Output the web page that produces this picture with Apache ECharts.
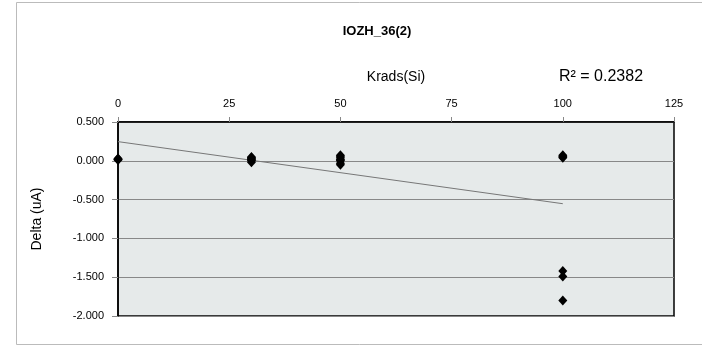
<!DOCTYPE html>
<html>
<head>
<meta charset="utf-8">
<script src="https://cdn.jsdelivr.net/npm/echarts@6/dist/echarts.min.js"></script>
<style>html,body{margin:0;padding:0;background:#fff}#c{width:702px;height:347px}</style>
</head>
<body>
<div id="c"></div>
<script>
// Measurements: Krads(Si) dose and Delta (uA)
const dose0 = [0.02, 0.02, 0.03, 0.01, 0.02];
const dose30 = [-0.02, 0.0, 0.01, 0.03, 0.04, 0.05, 0.02];
const dose50 = [-0.05, -0.03, 0.0, 0.02, 0.04, 0.06, 0.07, 0.01];
const dose100 = [0.04, 0.05, 0.06, 0.07, -1.42, -1.49, -1.80];
const doses = [0, 30, 50, 100];
const trendX = [0, 100];
const trendY = [0.247, -0.553];
const xTicks = [0, 25, 50, 75, 100, 125];
const yTicks = [-2, -1.5, -1, -0.5, 0, 0.5];

const groups = [dose0, dose30, dose50, dose100];
const points = [];
groups.forEach((g, i) => g.forEach(v => points.push([doses[i], v])));
const trend = trendX.map((x, i) => [x, trendY[i]]);

const font = 'Liberation Sans, Arial, sans-serif';
const chart = echarts.init(document.getElementById('c'), null, {renderer: 'canvas'});
chart.setOption({
  animation: false,
  backgroundColor: '#fff',
  title: {
    text: 'IOZH_36(2)', left: 372, top: 20, textAlign: 'center',
    textStyle: {fontFamily: font, fontSize: 13, fontWeight: 'bold', color: '#000'}
  },
  graphic: [
    {type: 'rect', shape: {x: 16.5, y: 2.5, width: 700, height: 342}, style: {fill: null, stroke: '#bbb', lineWidth: 1}, z: -1},
    {type: 'text', left: 559, top: 69, style: {text: 'R² = 0.2382', font: '16px ' + font, fill: '#000'}}
  ],
  grid: {
    left: 118, top: 122, right: 28, bottom: 31,
    show: true, backgroundColor: '#E6EAEA', borderColor: '#000', borderWidth: 1.5
  },
  xAxis: {
    type: 'value', position: 'top', min: xTicks[0], max: xTicks[xTicks.length - 1], interval: 25,
    name: 'Krads(Si)', nameLocation: 'middle', nameGap: 38,
    nameTextStyle: {fontFamily: font, fontSize: 14, color: '#000'},
    axisLine: {show: true, onZero: false, lineStyle: {color: '#000', width: 1.5}},
    axisTick: {show: true, length: 5, lineStyle: {color: '#888'}},
    axisLabel: {fontFamily: font, fontSize: 11, color: '#000', margin: 13},
    splitLine: {show: false}
  },
  yAxis: {
    type: 'value', min: yTicks[0], max: yTicks[yTicks.length - 1], interval: 0.5,
    name: 'Delta (uA)', nameLocation: 'middle', nameGap: 74,
    nameTextStyle: {fontFamily: font, fontSize: 14, color: '#000'},
    axisLine: {show: true, onZero: false, lineStyle: {color: '#000', width: 1.5}},
    axisTick: {show: true, length: 6, lineStyle: {color: '#888'}},
    axisLabel: {fontFamily: font, fontSize: 11, color: '#000', margin: 14, formatter: v => v.toFixed(3)},
    splitLine: {show: true, lineStyle: {color: '#888', width: 1}}
  },
  series: [
    {
      type: 'line', data: trend, symbol: 'none', silent: true,
      lineStyle: {color: '#777', width: 1}, z: 1
    },
    {
      type: 'scatter', data: points, symbol: 'diamond', symbolSize: [9, 10],
      itemStyle: {color: '#000', opacity: 1}, z: 3
    }
  ]
});
</script>
</body>
</html>
